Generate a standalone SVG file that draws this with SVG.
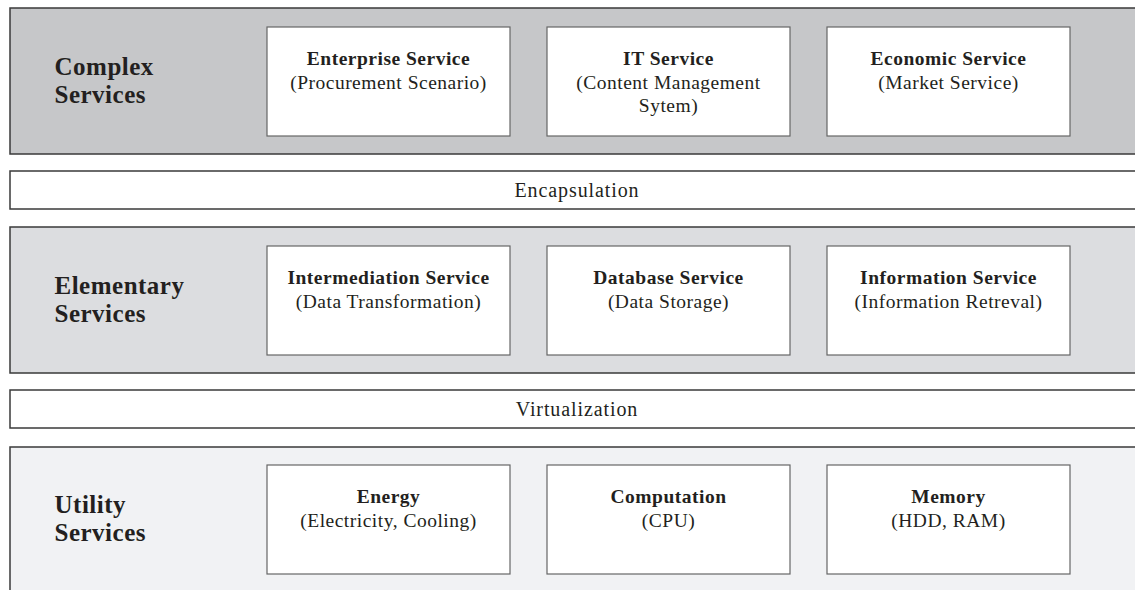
<svg xmlns="http://www.w3.org/2000/svg" width="1135" height="590" viewBox="0 0 1135 590">
<style>
.band{stroke:#3a3a3a;stroke-width:1.5}
.b1{fill:#c6c7c9}.b2{fill:#dcdde0}.b3{fill:#f1f2f4}
.strip{fill:#ffffff;stroke:#3a3a3a;stroke-width:1.5}
.box{fill:#ffffff;stroke:#666666;stroke-width:1.2}
text{font-family:"Liberation Serif","Times New Roman",serif;fill:#231f20}
.lbl{font-size:25px;font-weight:bold;letter-spacing:0.5px}
.t{font-size:19.5px;text-anchor:middle;letter-spacing:0.5px}
.h{font-weight:bold}
.s{font-size:20px;text-anchor:middle;letter-spacing:0.9px}
</style>
<rect width="1135" height="590" fill="#ffffff"/>
<g id="layer-complex">
<rect class="band b1" x="10" y="8" width="1140" height="146"/>
<text class="lbl" x="54.5" y="75">Complex</text>
<text class="lbl" x="54.5" y="103">Services</text>
</g>
<g id="strip-encapsulation">
<rect class="strip" x="10" y="171" width="1140" height="38"/>
<text class="s" x="577" y="197">Encapsulation</text>
</g>
<g id="layer-elementary">
<rect class="band b2" x="10" y="227" width="1140" height="146"/>
<text class="lbl" x="54.5" y="294">Elementary</text>
<text class="lbl" x="54.5" y="322">Services</text>
</g>
<g id="strip-virtualization">
<rect class="strip" x="10" y="390" width="1140" height="38"/>
<text class="s" x="577" y="416">Virtualization</text>
</g>
<g id="layer-utility">
<rect class="band b3" x="10" y="447" width="1140" height="160"/>
<text class="lbl" x="54.5" y="513">Utility</text>
<text class="lbl" x="54.5" y="541">Services</text>
</g>
<g id="enterprise-service">
<rect class="box" x="267" y="27" width="243" height="109"/>
<text class="t h" x="388.5" y="65">Enterprise Service</text>
<text class="t" x="388.5" y="88.5">(Procurement Scenario)</text>
</g>
<g id="it-service">
<rect class="box" x="547" y="27" width="243" height="109"/>
<text class="t h" x="668.5" y="65">IT Service</text>
<text class="t" x="668.5" y="88.5">(Content Management</text>
<text class="t" x="668.5" y="112">Sytem)</text>
</g>
<g id="economic-service">
<rect class="box" x="827" y="27" width="243" height="109"/>
<text class="t h" x="948.5" y="65">Economic Service</text>
<text class="t" x="948.5" y="88.5">(Market Service)</text>
</g>
<g id="intermediation-service">
<rect class="box" x="267" y="246" width="243" height="109"/>
<text class="t h" x="388.5" y="284">Intermediation Service</text>
<text class="t" x="388.5" y="307.5">(Data Transformation)</text>
</g>
<g id="database-service">
<rect class="box" x="547" y="246" width="243" height="109"/>
<text class="t h" x="668.5" y="284">Database Service</text>
<text class="t" x="668.5" y="307.5">(Data Storage)</text>
</g>
<g id="information-service">
<rect class="box" x="827" y="246" width="243" height="109"/>
<text class="t h" x="948.5" y="284">Information Service</text>
<text class="t" x="948.5" y="307.5">(Information Retreval)</text>
</g>
<g id="energy">
<rect class="box" x="267" y="465" width="243" height="109"/>
<text class="t h" x="388.5" y="503">Energy</text>
<text class="t" x="388.5" y="526.5">(Electricity, Cooling)</text>
</g>
<g id="computation">
<rect class="box" x="547" y="465" width="243" height="109"/>
<text class="t h" x="668.5" y="503">Computation</text>
<text class="t" x="668.5" y="526.5">(CPU)</text>
</g>
<g id="memory">
<rect class="box" x="827" y="465" width="243" height="109"/>
<text class="t h" x="948.5" y="503">Memory</text>
<text class="t" x="948.5" y="526.5">(HDD, RAM)</text>
</g>
<g id="connectors"></g>
</svg>
